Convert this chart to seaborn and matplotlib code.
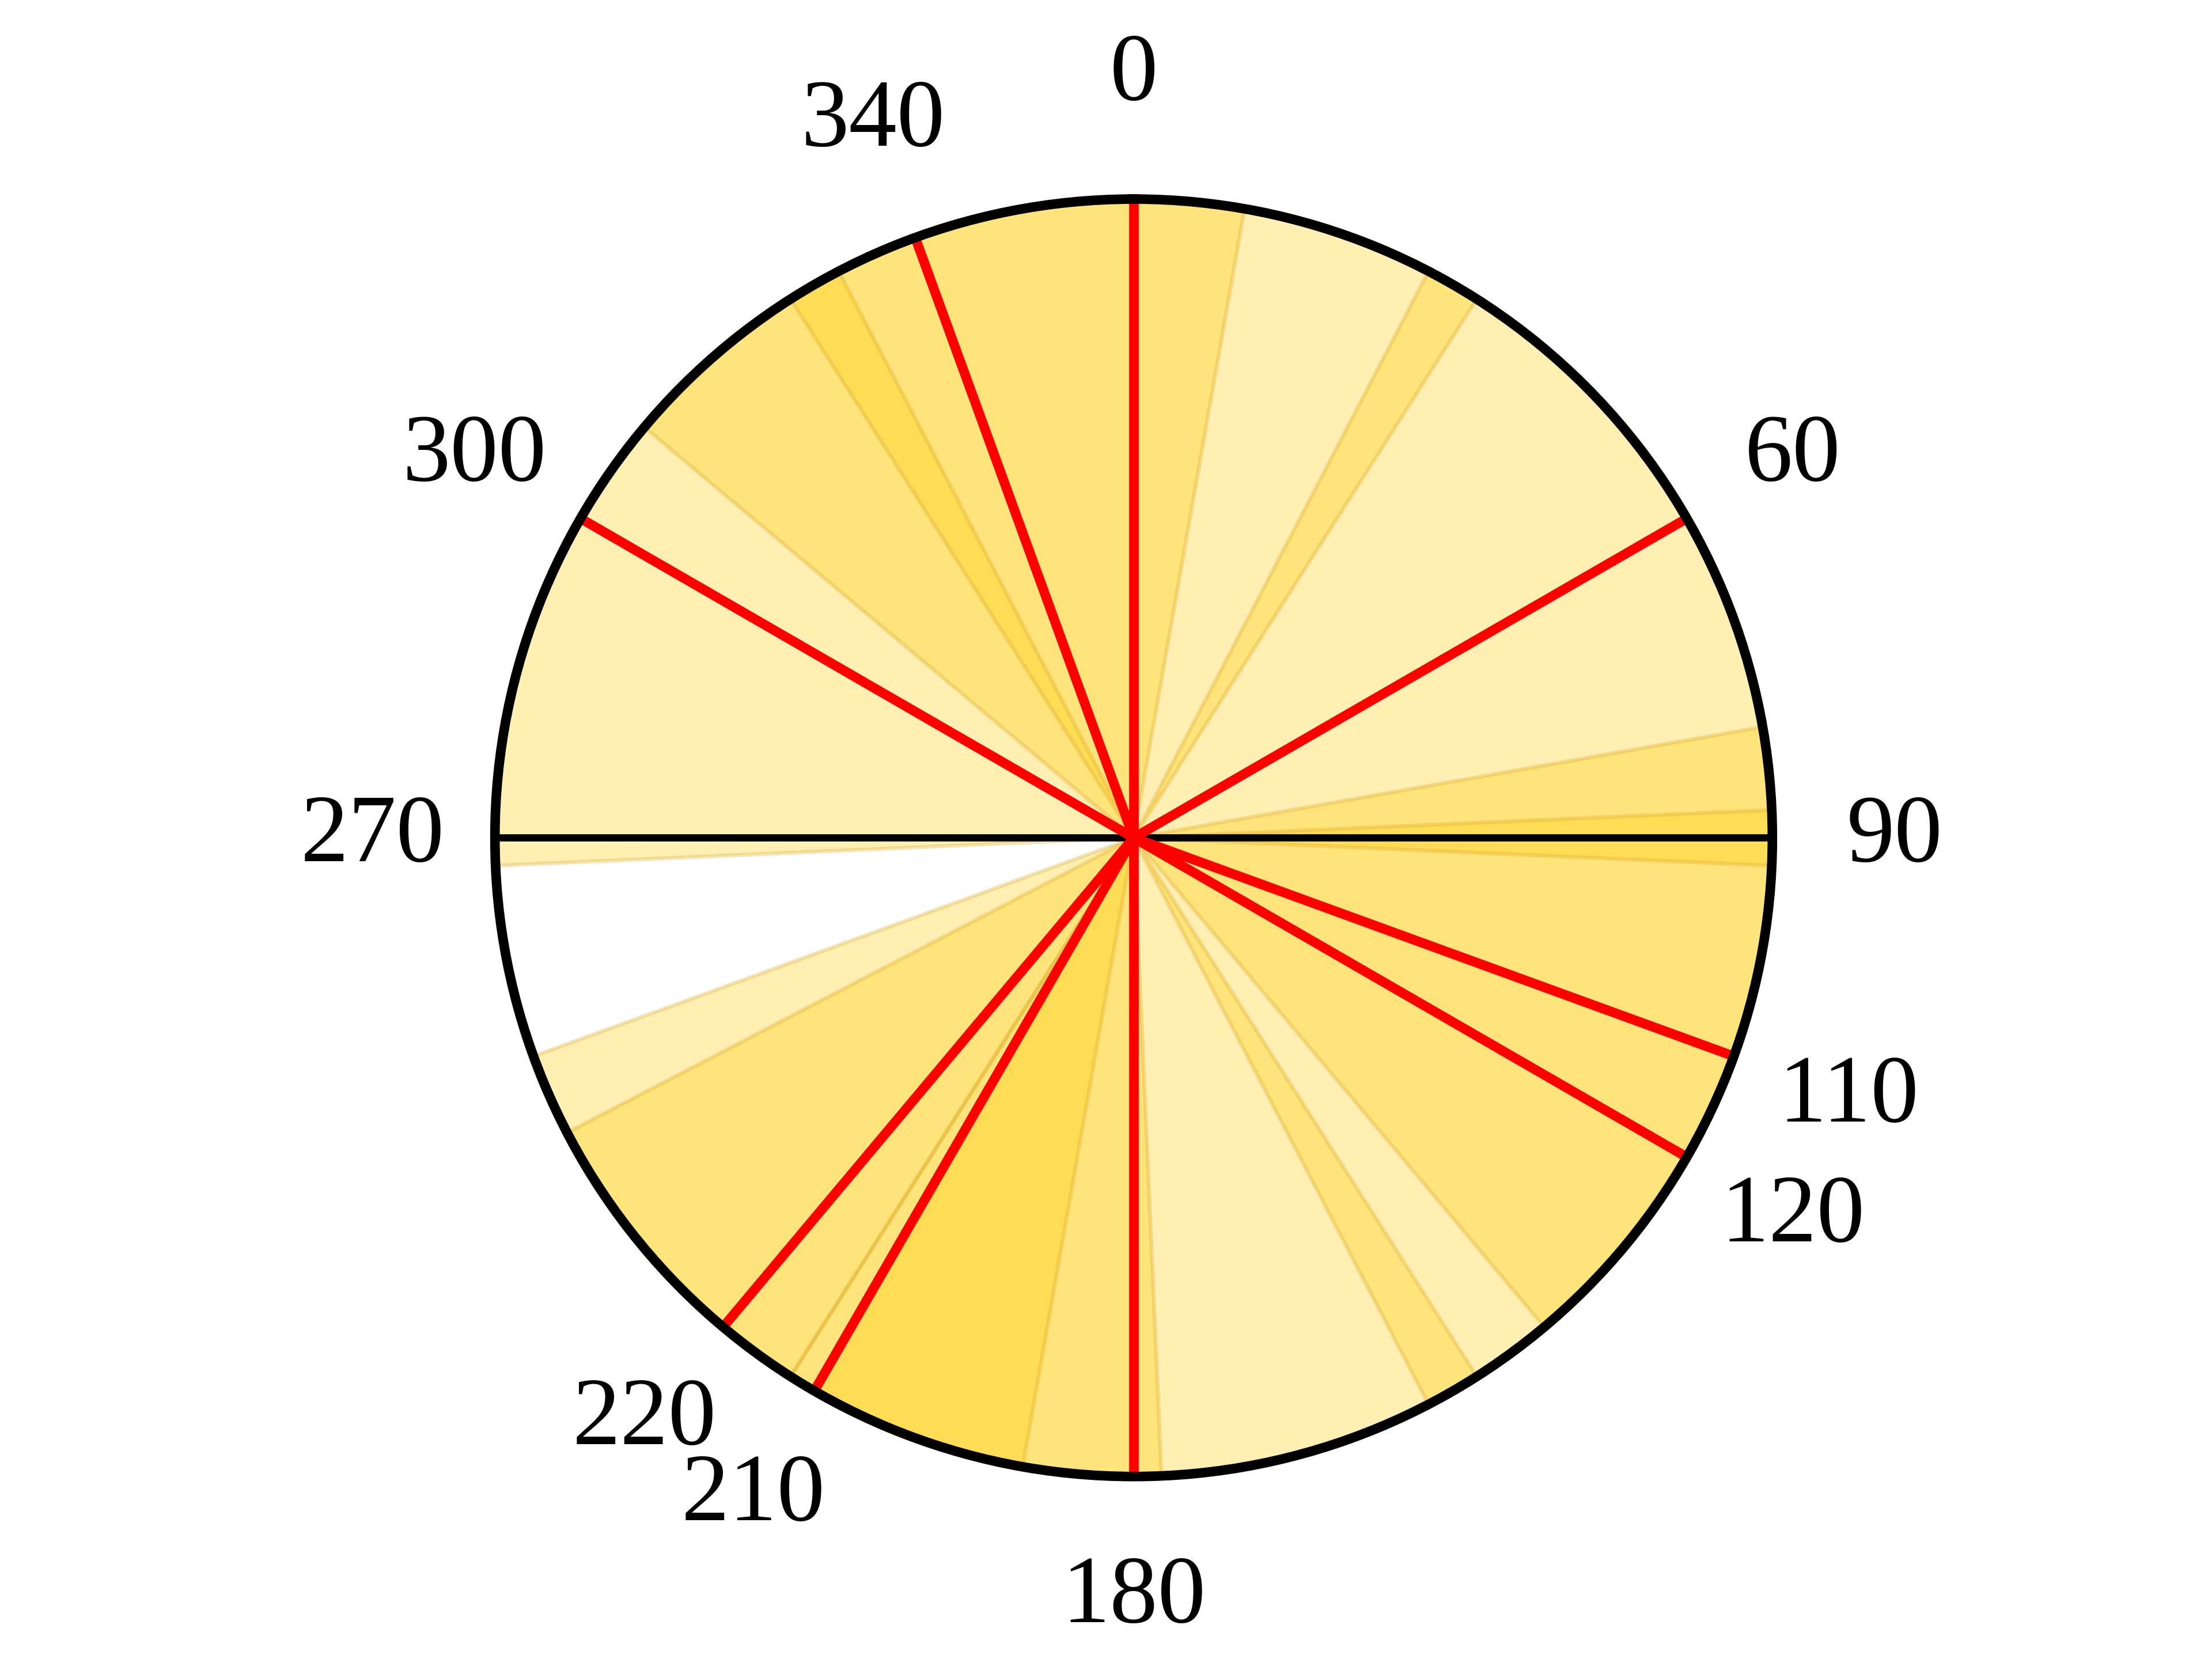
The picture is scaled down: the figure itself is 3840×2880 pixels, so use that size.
import numpy as np
import pandas as pd
import matplotlib.pyplot as plt
import seaborn as sns

# --- data: sector ranges in degrees (clockwise from north) ---
wedge_start = [267.5, 310, 327.5, 27.5, 80, 87.5, 147.5, 177.5, 190, 212.5]
wedge_end = [250, 10, 332.5, 32.5, 140, 92.5, 152.5, 212.5, 210, 242.5]

# red reference directions
spoke_angles = [0, 60, 110, 120, 180, 210, 220, 300, 340]
# black axis (east-west)
axis_angles = [90, 270]

tick_angles = [0, 60, 90, 110, 120, 180, 210, 220, 270, 300, 340]
tick_labels = [str(a) for a in tick_angles]

sns.set_theme(style='white')
plt.rcParams['font.family'] = ['Liberation Serif', 'DejaVu Serif']

fig = plt.figure(figsize=(6.4, 4.8), dpi=600)
ax = fig.add_subplot(111, projection='polar')
ax.set_theta_zero_location('N')
ax.set_theta_direction(-1)

# overlapping sectors
start = np.deg2rad(wedge_start)
width = np.deg2rad((np.array(wedge_end) - np.array(wedge_start)) % 360)
ax.bar(start, np.ones(len(start)), width=width, bottom=0, align='edge',
       color='#FFCC00', alpha=0.3, edgecolor='#DAA520', linewidth=0.8, zorder=1)

# black east-west line
for a in axis_angles:
    ax.plot([np.deg2rad(a)] * 2, [0, 1], color='black', lw=1.5, zorder=2)

# red spokes
spokes = pd.DataFrame({
    'theta': np.deg2rad(np.repeat(spoke_angles, 2)),
    'r': np.tile([0, 1], len(spoke_angles)),
    'spoke': np.repeat(spoke_angles, 2),
})
sns.lineplot(data=spokes, x='theta', y='r', units='spoke', estimator=None,
             sort=False, color='red', lw=2, ax=ax, zorder=3)

ax.set_ylim(0, 1)
ax.set_yticks([])
ax.set_xticks(np.deg2rad(tick_angles))
ax.set_xticklabels(tick_labels)
ax.tick_params(axis='x', pad=18.5, labelsize=20, length=0, labelcolor='black')
ax.grid(False)
ax.set_xlabel('')
ax.set_ylabel('')
ax.spines['polar'].set_color('black')
ax.spines['polar'].set_linewidth(2)
ax.spines['polar'].set_zorder(5)

fig.savefig('out.png', dpi=600)
